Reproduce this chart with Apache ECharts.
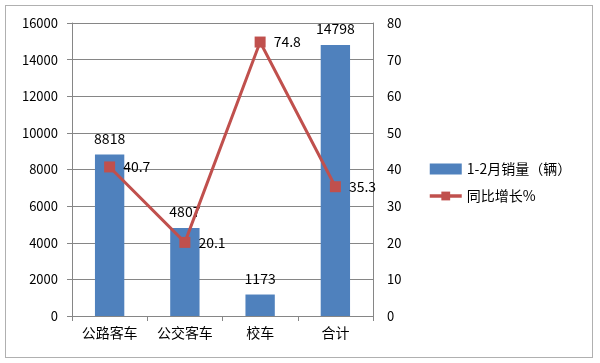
<!DOCTYPE html>
<html><head><meta charset="utf-8">
<script src="https://cdn.jsdelivr.net/npm/echarts@6/dist/echarts.min.js"></script>
<style>html,body{margin:0;padding:0;background:#fff}#c{width:600px;height:363px}
#frame{position:absolute;left:5px;top:5px;width:588px;height:353px;border:1px solid #b0b0b0;box-sizing:border-box;pointer-events:none}</style>
</head><body><div id="c"></div><div id="frame"></div>
<script>
const categories = ['公路客车','公交客车','校车','合计'];
const sales = [8818, 4807, 1173, 14798];
const growth = [40.7, 20.1, 74.8, 35.3];
const leftTicks = [0,2000,4000,6000,8000,10000,12000,14000,16000];
const rightTicks = [0,10,20,30,40,50,60,70,80];
const F = '"Noto Sans CJK SC", "DejaVu Sans", sans-serif';
const chart = echarts.init(document.getElementById('c'));
chart.setOption({
  animation:false,
  textStyle:{fontFamily:F},
  grid:{left:72,right:227,top:23,bottom:47},
  legend:{
    orient:'vertical', left:423, top:157, itemGap:13, itemWidth:32, itemHeight:11,
    textStyle:{fontSize:14,color:'#000',fontFamily:F},
    data:[{name:'1-2月销量（辆）',icon:'rect'},
          {name:'同比增长%',lineStyle:{width:3.5}}]
  },
  xAxis:{type:'category',data:categories,
    axisLine:{lineStyle:{color:'#868686'}},
    axisTick:{show:true,alignWithLabel:false,length:5,lineStyle:{color:'#868686'}},
    axisLabel:{fontSize:14,color:'#000',margin:10}},
  yAxis:[{type:'value',min:leftTicks[0],max:leftTicks[leftTicks.length-1],interval:2000,
    axisLine:{show:true,lineStyle:{color:'#868686'}},
    axisTick:{show:true,length:5,lineStyle:{color:'#868686'}},
    splitLine:{lineStyle:{color:'#868686'}},
    axisLabel:{fontSize:13,color:'#000',margin:14,formatter:v=>String(v)}},
   {type:'value',min:rightTicks[0],max:rightTicks[rightTicks.length-1],interval:10,
    axisLine:{show:true,lineStyle:{color:'#868686'}},
    axisTick:{show:false},splitLine:{show:false},
    axisLabel:{fontSize:13,color:'#000',margin:14,formatter:v=>String(v)}}],
  series:[
    {name:'1-2月销量（辆）',type:'bar',data:sales,barWidth:'39%',
     itemStyle:{color:'#4F81BD'},
     label:{show:true,position:'top',distance:9,fontSize:14,color:'#000'}},
    {name:'同比增长%',type:'line',yAxisIndex:1,data:growth,
     symbol:'rect',symbolSize:11,
     lineStyle:{color:'#C0504D',width:3},itemStyle:{color:'#C0504D'},
     label:{show:true,position:'right',distance:8,fontSize:14,color:'#000'}}
  ]
});
</script></body></html>
